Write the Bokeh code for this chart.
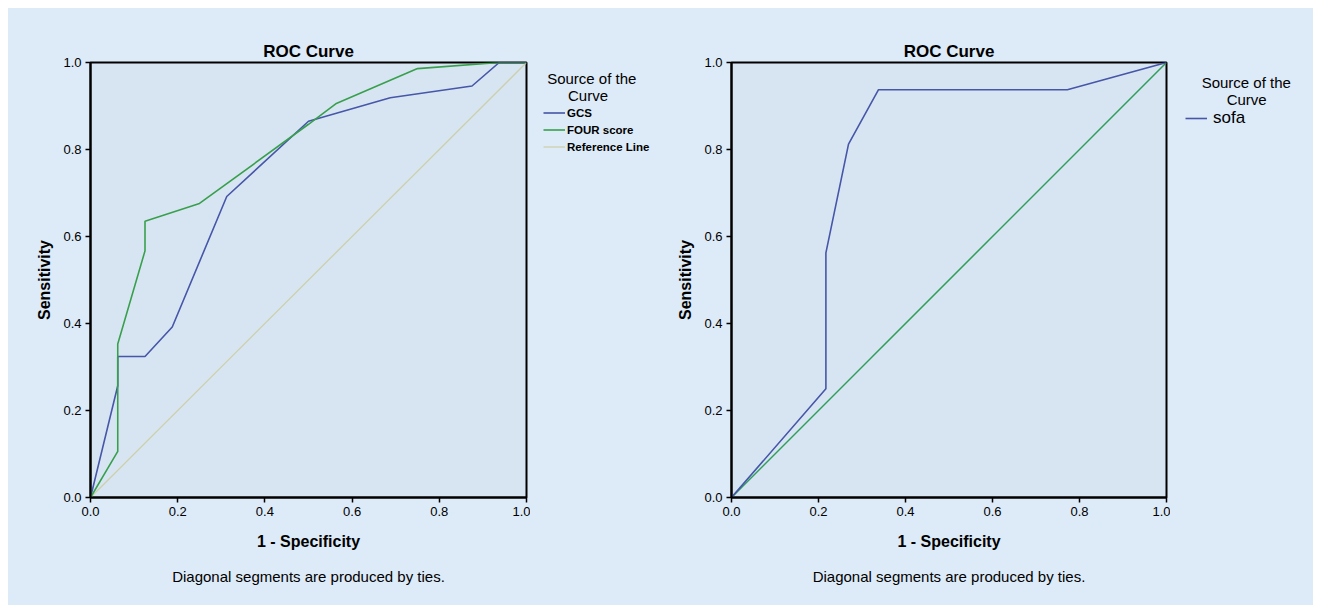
from bokeh.plotting import figure
from bokeh.models import (Range1d, FixedTicker, PrintfTickFormatter, Legend, LegendItem, Title)
from bokeh.layouts import row
from bokeh.embed import file_html
from bokeh.resources import INLINE

# ---------------- data ----------------
ticks = [0.0, 0.2, 0.4, 0.6, 0.8, 1.0]

gcs_x = [0.0, 0.0625, 0.0625, 0.125, 0.1875, 0.3125, 0.5, 0.6875, 0.875, 0.9375, 1.0]
gcs_y = [0.0, 0.257, 0.324, 0.324, 0.392, 0.692, 0.865, 0.919, 0.946, 1.0, 1.0]

four_x = [0.0, 0.0625, 0.0625, 0.125, 0.125, 0.25, 0.5, 0.5625, 0.75, 0.9375, 1.0]
four_y = [0.0, 0.106, 0.353, 0.567, 0.635, 0.676, 0.858, 0.905, 0.986, 1.0, 1.0]

ref_x = [0.0, 1.0]
ref_y = [0.0, 1.0]

sofa_x = [0.0, 0.217, 0.217, 0.269, 0.338, 0.772, 1.0]
sofa_y = [0.0, 0.25, 0.5625, 0.8125, 0.9375, 0.9375, 1.0]

left_series = ["GCS", "FOUR score", "Reference Line"]
right_series = ["sofa"]
legend_title_lines = ["Source of the", "Curve"]
chart_title = "ROC Curve"
x_label = "1 - Specificity"
y_label = "Sensitivity"
footnote = "Diagonal segments are produced by ties."

# ---------------- style ----------------
FONT = "Liberation Sans"
OUTER = "#ddeaf7"
INNER = "#d7e5f2"
BLUE = "#4656a8"
GREEN = "#38a04c"
TAN = "#cdd0ac"
GREEN2 = "#2f9e58"
NB = "\u00a0"
H = 597
TOP = 54
BOTTOM = 108


def make_fig(width, left_border, right_border):
    p = figure(width=width, height=H, output_backend="svg",
               toolbar_location=None,
               x_range=Range1d(0, 1), y_range=Range1d(0, 1),
               min_border_left=left_border, min_border_right=right_border,
               min_border_top=TOP, min_border_bottom=BOTTOM)
    p.background_fill_color = INNER
    p.border_fill_color = OUTER
    p.outline_line_color = "black"
    p.outline_line_width = 2
    p.grid.visible = False
    p.title.text = chart_title
    p.title.align = "center"
    p.title.text_font = FONT
    p.title.text_font_size = "17px"
    p.title.text_font_style = "bold"
    p.title.text_color = "black"
    p.title.standoff = 3
    for ax in (p.xaxis[0], p.yaxis[0]):
        ax.ticker = FixedTicker(ticks=ticks, minor_ticks=[])
        ax.formatter = PrintfTickFormatter(format="%.1f")
        ax.axis_line_color = "black"
        ax.axis_line_width = 2
        ax.major_tick_line_color = "black"
        ax.major_tick_line_width = 1.5
        ax.major_tick_in = 0
        ax.major_tick_out = 5
        ax.minor_tick_line_color = None
        ax.major_label_text_font = FONT
        ax.major_label_text_font_size = "13px"
        ax.major_label_text_color = "black"
        ax.major_label_standoff = 4
        ax.axis_label_text_font = FONT
        ax.axis_label_text_font_size = "16px"
        ax.axis_label_text_font_style = "bold"
        ax.axis_label_text_color = "black"
    p.xaxis[0].axis_label = x_label
    p.xaxis[0].axis_label_standoff = 14
    p.yaxis[0].axis_label = y_label
    p.yaxis[0].axis_label_standoff = 7
    p.add_layout(Title(text=footnote, align="center", text_font=FONT,
                       text_font_size="15px", text_font_style="normal",
                       text_color="black", standoff=26), "below")
    return p


def make_legend_fig(width, left_border):
    # a plain panel that only holds a legend (its lines lie outside its range)
    f = figure(width=width, height=H, output_backend="svg", toolbar_location=None,
               x_range=Range1d(5, 6), y_range=Range1d(5, 6),
               x_axis_type=None, y_axis_type=None,
               min_border_left=left_border, min_border_top=TOP,
               min_border_right=0, min_border_bottom=BOTTOM)
    f.background_fill_color = OUTER
    f.border_fill_color = OUTER
    f.outline_line_color = None
    f.grid.visible = False
    return f


def style_legend(lg, title, size, bold, gh, standoff, margin):
    lg.location = "top_left"
    lg.title = title
    lg.title_text_font = FONT
    lg.title_text_font_size = "15px"
    lg.title_text_font_style = "normal"
    lg.title_text_color = "black"
    lg.title_standoff = 0
    lg.background_fill_alpha = 0
    lg.border_line_color = None
    lg.margin = margin
    lg.padding = 0
    lg.spacing = 0
    lg.glyph_width = 22
    lg.glyph_height = gh
    lg.label_height = gh
    lg.label_standoff = standoff
    lg.label_text_font = FONT
    lg.label_text_font_size = size
    lg.label_text_font_style = "bold" if bold else "normal"
    lg.label_text_color = "black"


# ---------------- left chart ----------------
p1 = make_fig(522, 82, 4)
p1.line(ref_x, ref_y, line_color=TAN, line_width=1.3)
p1.line(gcs_x, gcs_y, line_color=BLUE, line_width=1.6)
p1.line(four_x, four_y, line_color=GREEN, line_width=1.6)

l1 = make_legend_fig(130, 5)
k_gcs = l1.line(gcs_x, gcs_y, line_color=BLUE, line_width=1.6)
k_four = l1.line(four_x, four_y, line_color=GREEN, line_width=1.6)
k_ref = l1.line(ref_x, ref_y, line_color=TAN, line_width=1.3)
leg1 = Legend(items=[LegendItem(label=left_series[0], renderers=[k_gcs]),
                     LegendItem(label=left_series[1], renderers=[k_four]),
                     LegendItem(label=left_series[2], renderers=[k_ref])])
style_legend(leg1, NB + legend_title_lines[0] + "\n" + NB * 6 + legend_title_lines[1],
             "11.5px", True, 17, 2, 8)
l1.add_layout(leg1)

# ---------------- right chart ----------------
p2 = make_fig(510, 71, 4)
p2.line(ref_x, ref_y, line_color=GREEN2, line_width=1.5)
p2.line(sofa_x, sofa_y, line_color=BLUE, line_width=1.6)

l2 = make_legend_fig(143, 3)
k_sofa = l2.line(sofa_x, sofa_y, line_color=BLUE, line_width=1.6)
leg2 = Legend(items=[LegendItem(label=right_series[0], renderers=[k_sofa])])
style_legend(leg2, NB * 4 + legend_title_lines[0] + "\n" + NB * 10 + legend_title_lines[1],
             "17px", False, 20, 6, 12)
l2.add_layout(leg2)

layout = row(p1, l1, p2, l2, margin=(8, 8, 8, 8), styles={"background-color": OUTER})
open("out.html", "w").write(file_html(layout, INLINE))
